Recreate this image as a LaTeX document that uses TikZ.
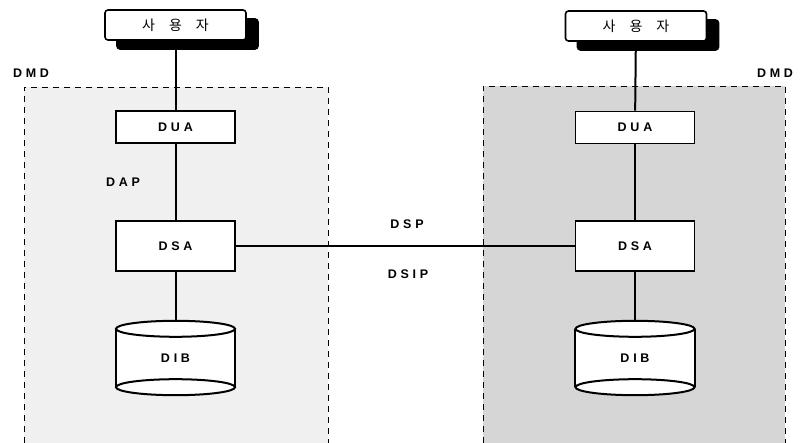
\documentclass[tikz,border=0pt]{standalone}
\usepackage{fontspec}
\usetikzlibrary{shadows}
\newfontfamily\labfont[LetterSpace=30]{Liberation Sans}
\newfontfamily\kofont{Noto Sans CJK KR}
\newcommand{\usertxt}{사\hspace{14pt}용\hspace{14pt}자}
\tikzset{
  lab/.style={font=\labfont\bfseries\fontsize{12.5}{14}\selectfont, inner sep=0pt},
  box/.style={draw, fill=white, line width=1.8pt, minimum width=119pt, inner sep=0pt,
    font=\labfont\bfseries\fontsize{12.5}{14}\selectfont},
  duabox/.style={box, minimum height=32pt},
  dsabox/.style={box, minimum height=50pt},
  userbox/.style={draw, fill=white, line width=1.6pt, rounded corners=3pt, minimum width=141pt,
    minimum height=30pt, inner sep=0pt, font=\kofont\fontsize{14}{16}\selectfont,
    copy shadow={shadow xshift=12pt, shadow yshift=-9pt, fill=black, draw=black}},
  dibbox/.style={minimum width=119pt, minimum height=58pt, inner sep=0pt,
    font=\labfont\bfseries\fontsize{12.5}{14}\selectfont},
  conn/.style={line width=2pt},
  dmd/.style={line width=0.9pt, dash pattern=on 6pt off 5pt}
}
\begin{document}
\begin{tikzpicture}[x=1pt,y=-1pt]
\useasboundingbox (0,0) rectangle (801,443);
% domain backgrounds
\fill[gray!12] (24,87) rectangle (328,443);
\fill[gray!32] (483,86) rectangle (785,443);
\draw[dmd] (24,443) -- (24,87) -- (328,87) -- (328,443);
\draw[dmd] (483,443) -- (483,86) -- (785,86) -- (785,443);
\node[lab] (dmdL) at (31,73) {DMD};
\node[lab] (dmdR) at (775,73) {DMD};
% left side
\node[userbox] (u1) at (175.5,25) {\usertxt};
\node[duabox] (dua1) at (175.5,127) {DUA};
\node[dsabox] (dsa1) at (175.5,246) {DSA};
\node[dibbox] (dib1) at (175.5,358) {};
% right side
\node[userbox] (u2) at (636,26) {\usertxt};
\node[duabox] (dua2) at (635,127.5) {DUA};
\node[dsabox] (dsa2) at (635,246) {DSA};
\node[dibbox] (dib2) at (635,358) {};
% cylinders
\foreach \d in {dib1,dib2}{
  \fill[white] (\d.south) ellipse [x radius=59.5pt, y radius=8pt];
  \fill[white] (\d.north west) rectangle (\d.south east);
  \draw[conn] (\d.north west) -- (\d.south west);
  \draw[conn] (\d.north east) -- (\d.south east);
  \draw[conn] (\d.south) ellipse [x radius=59.5pt, y radius=8pt];
  \draw[conn, fill=white] (\d.north) ellipse [x radius=59.5pt, y radius=8pt];
  \coordinate (\d top) at ([yshift=8pt]\d.north);
}
\node[lab] (dibt1) at (dib1.center) {DIB};
\node[lab] (dibt2) at (dib2.center) {DIB};
% connectors
\draw[conn] (u1) -- (dua1);
\draw[conn] (dua1) -- (dsa1);
\draw[conn] (dsa1) -- (dib1top);
\draw[conn] (u2) -- (dua2);
\draw[conn] (dua2) -- (dsa2);
\draw[conn] (dsa2) -- (dib2top);
\draw[conn] (dsa1) -- (dsa2);
% labels
\node[lab] (dap) at (123,182) {DAP};
\node[lab] (dsp) at (407,224) {DSP};
\node[lab] (dsip) at (408,274) {DSIP};
\end{tikzpicture}
\end{document}
